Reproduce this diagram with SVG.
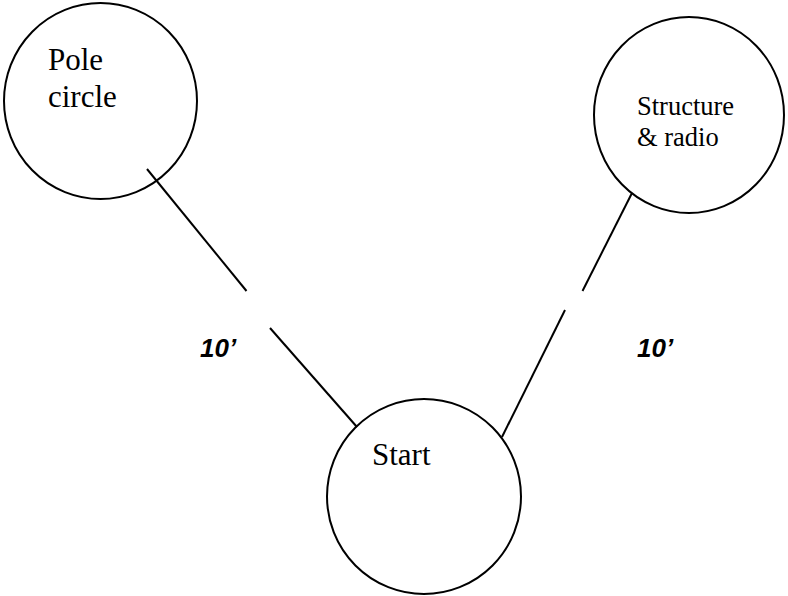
<svg xmlns="http://www.w3.org/2000/svg" width="788" height="596" viewBox="0 0 788 596">
<style>
.node{fill:none;stroke:#000;stroke-width:2}
.lbl{font-family:"Liberation Serif","Times New Roman",serif;fill:#000}
.conn line{stroke:#000;stroke-width:2}
.dist{font-family:"Liberation Sans",Arial,sans-serif;font-weight:bold;font-style:italic;font-size:26px;fill:#000}
</style>
<rect width="788" height="596" fill="#fff"/>
<g id="pole">
<ellipse class="node" cx="100.5" cy="101" rx="96.5" ry="98"/>
<text class="lbl" font-size="31" x="48" y="70">Pole</text>
<text class="lbl" font-size="31" x="48" y="107">circle</text>
</g>
<g id="structure">
<ellipse class="node" cx="689" cy="115" rx="95" ry="98"/>
<text class="lbl" font-size="26.5" x="637" y="115">Structure</text>
<text class="lbl" font-size="26.5" x="637" y="146">&amp; radio</text>
</g>
<g id="start">
<ellipse class="node" cx="424" cy="496.5" rx="97" ry="97.5"/>
<text class="lbl" font-size="31" x="372" y="465">Start</text>
</g>
<g id="connectors" class="conn">
<line x1="147" y1="169" x2="246.5" y2="291"/>
<line x1="270" y1="328" x2="357" y2="427"/>
<line x1="632" y1="193" x2="582.5" y2="291"/>
<line x1="565" y1="310" x2="502" y2="437"/>
<text class="dist" x="200" y="357">10’</text>
<text class="dist" x="637" y="357">10’</text>
</g>
</svg>
